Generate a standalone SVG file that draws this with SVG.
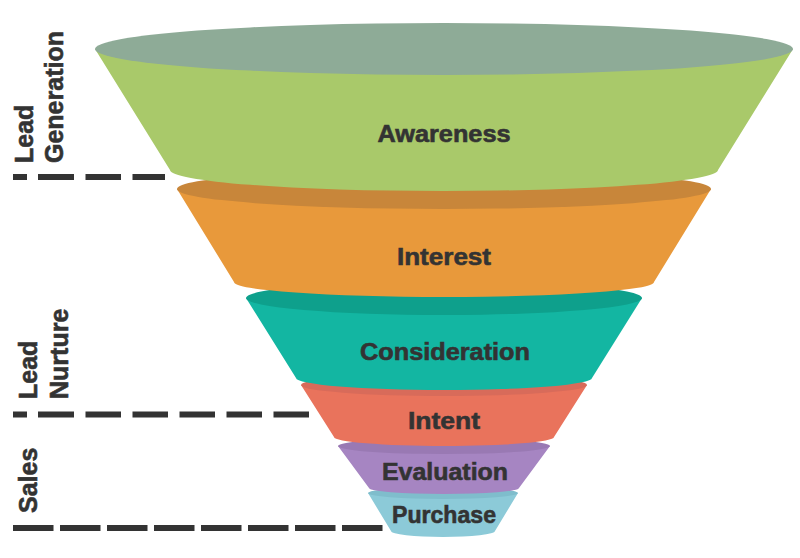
<svg xmlns="http://www.w3.org/2000/svg" width="800" height="558" viewBox="0 0 800 558">
<style>
.lbl{font-family:"Liberation Sans",Arial,sans-serif;font-weight:bold;fill:#333333;stroke:#333333;stroke-width:0.6}
.stage{font-size:23.5px;text-anchor:middle}
.side{font-size:25px}
.dash{stroke:#333333;stroke-width:6;fill:none}
</style>
<rect width="800" height="558" fill="#ffffff"/>
<g id="connectors">
<line class="dash" x1="13" y1="177" x2="165" y2="177" stroke-dasharray="14 11 36 11.5 35.5 11.5 35.5 11.5 40 20"/>
<line class="dash" x1="13" y1="414.5" x2="312" y2="414.5" stroke-dasharray="14 11 36 11.5 35.5 11.5 35.5 11.5 35.5 11.5 35.5 11.5 35.5 11.5 40 20"/>
<line class="dash" x1="13" y1="528" x2="388" y2="528" stroke-dasharray="40.5 6.5"/>
</g>
<g id="purchase">
<path d="M368,493 L391,531 A52,6 0 0 0 495,531 L518,493 Z" fill="#8ccad8"/>
<ellipse cx="443" cy="493" rx="75" ry="6" fill="#7fbdcc"/>
<text class="lbl stage" x="444" y="523" textLength="104" lengthAdjust="spacingAndGlyphs">Purchase</text>
</g>
<g id="evaluation">
<path d="M338,446 L369,488 A75,6 0 0 0 519,488 L550,446 Z" fill="#a685c2"/>
<ellipse cx="444" cy="446" rx="106" ry="8" fill="#9979b3"/>
<text class="lbl stage" x="445" y="480" textLength="126" lengthAdjust="spacingAndGlyphs">Evaluation</text>
</g>
<g id="intent">
<path d="M301,385 L334,437 A110,9 0 0 0 554,437 L587,385 Z" fill="#e9735c"/>
<ellipse cx="444" cy="385" rx="143" ry="11" fill="#d86b5a"/>
<text class="lbl stage" x="444" y="429" textLength="72" lengthAdjust="spacingAndGlyphs">Intent</text>
</g>
<g id="consideration">
<path d="M246,298 L296,378 A148,12 0 0 0 592,378 L642,298 Z" fill="#13b6a2"/>
<ellipse cx="444" cy="298" rx="198" ry="17" fill="#0ea08c"/>
<text class="lbl stage" x="445" y="360" textLength="170" lengthAdjust="spacingAndGlyphs">Consideration</text>
</g>
<g id="interest">
<path d="M177,189 L234,282 A210,15 0 0 0 654,282 L711,189 Z" fill="#e8993b"/>
<ellipse cx="444" cy="189" rx="267" ry="20" fill="#c8863a"/>
<text class="lbl stage" x="444" y="265" textLength="94" lengthAdjust="spacingAndGlyphs">Interest</text>
</g>
<g id="awareness">
<path d="M95,49 L170,170 A274,21 0 0 0 718,170 L793,49 Z" fill="#a9c96a"/>
<ellipse cx="444" cy="49" rx="349" ry="26" fill="#8eab97"/>
<text class="lbl stage" x="444" y="142" textLength="133" lengthAdjust="spacingAndGlyphs">Awareness</text>
</g>
<g id="labels">
<text class="lbl side" transform="translate(33,163) rotate(-90)">Lead</text>
<text class="lbl side" transform="translate(63,163) rotate(-90)">Generation</text>
<text class="lbl side" transform="translate(37,399) rotate(-90)">Lead</text>
<text class="lbl side" transform="translate(68,399) rotate(-90)">Nurture</text>
<text class="lbl side" transform="translate(37,513) rotate(-90)">Sales</text>
</g>
</svg>
